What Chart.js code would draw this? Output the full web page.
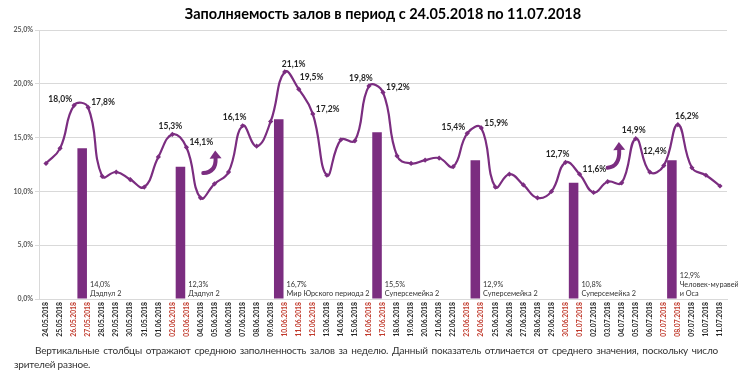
<!DOCTYPE html>
<html>
<head>
<meta charset="utf-8">
<script src="https://cdn.jsdelivr.net/npm/chart.js@4/dist/chart.umd.min.js"></script>
<style>
body { margin: 0; background: #fff; }
#wrap { position: relative; width: 738px; height: 375px; overflow: hidden; }
#zaly { position: absolute; left: 0; top: 0; }
#note { position: absolute; left: 14px; top: 344px; width: 704px; font-family: Lato, sans-serif; font-size: 10px; letter-spacing: -0.2px; line-height: 13.5px; color: #333; text-align: justify; text-indent: 21px; }
</style>
</head>
<body>
<div id="wrap">
<canvas id="zaly" width="738" height="375"></canvas>
<div id="note">Вертикальные столбцы отражают среднюю заполненность залов за неделю. Данный показатель отличается от среднего значения, поскольку число зрителей разное.</div>
</div>
<script>
var dates = [
    '24.05.2018', '25.05.2018', '26.05.2018', '27.05.2018', '28.05.2018', '29.05.2018', '30.05.2018', '31.05.2018',
    '01.06.2018', '02.06.2018', '03.06.2018', '04.06.2018', '05.06.2018', '06.06.2018', '07.06.2018', '08.06.2018',
    '09.06.2018', '10.06.2018', '11.06.2018', '12.06.2018', '13.06.2018', '14.06.2018', '15.06.2018', '16.06.2018',
    '17.06.2018', '18.06.2018', '19.06.2018', '20.06.2018', '21.06.2018', '22.06.2018', '23.06.2018', '24.06.2018',
    '25.06.2018', '26.06.2018', '27.06.2018', '28.06.2018', '29.06.2018', '30.06.2018', '01.07.2018', '02.07.2018',
    '03.07.2018', '04.07.2018', '05.07.2018', '06.07.2018', '07.07.2018', '08.07.2018', '09.07.2018', '10.07.2018',
    '11.07.2018'
];

// выходные и праздники (красные подписи)
var redDates = [
    '26.05.2018', '27.05.2018', '02.06.2018', '03.06.2018', '10.06.2018', '11.06.2018', '12.06.2018',
    '16.06.2018', '17.06.2018', '23.06.2018', '24.06.2018', '30.06.2018', '01.07.2018', '07.07.2018', '08.07.2018'
];

// заполняемость по дням, %
var fillRate = [
    12.6, 14.0, 18.0, 17.8, 11.4, 11.8, 11.1, 10.4,
    13.2, 15.3, 14.1, 9.4, 10.7, 11.8, 16.1, 14.2,
    16.5, 21.1, 19.5, 17.2, 11.5, 14.8, 14.7, 19.8,
    19.2, 13.3, 12.6, 12.9, 13.1, 12.3, 15.4, 15.9,
    10.4, 11.6, 10.6, 9.4, 10.0, 12.7, 11.6, 9.9,
    10.9, 10.8, 14.9, 11.8, 12.4, 16.2, 12.2, 11.5,
    10.5
];

// средняя заполняемость за неделю
var weekDates = ['27.05.2018', '03.06.2018', '10.06.2018', '17.06.2018', '24.06.2018', '01.07.2018', '08.07.2018'];
var weekAvg = [14.0, 12.3, 16.7, 15.5, 12.9, 10.8, 12.9];
var weekFilms = [
    ['Дэдпул 2'],
    ['Дэдпул 2'],
    ['Мир Юрского периода 2'],
    ['Суперсемейка 2'],
    ['Суперсемейка 2'],
    ['Суперсемейка 2'],
    ['Человек-муравей', 'и Оса']
];

// подписанные точки линии
var labelDates = [
    '26.05.2018', '27.05.2018', '02.06.2018', '03.06.2018', '07.06.2018', '10.06.2018', '11.06.2018', '12.06.2018',
    '16.06.2018', '17.06.2018', '23.06.2018', '24.06.2018', '30.06.2018', '01.07.2018', '05.07.2018', '07.07.2018',
    '08.07.2018'
];
var labelPlaces = [
    'left', 'right', 'top', 'right', 'topleft', 'topright', 'upright', 'right',
    'topleft', 'right', 'left', 'right', 'topleft', 'right', 'top', 'highleft',
    'topright'
];

var purple = '#7b2d80';

var weekBars = dates.map(function (d) {
    var k = weekDates.indexOf(d);
    return k >= 0 ? weekAvg[k] : null;
});
var emptyBars = dates.map(function () { return null; });

function pct(v) {
    return v.toFixed(1).replace('.', ',') + '%';
}

var places = {
    left: { align: 'right', dx: -2, dy: -6 },
    right: { align: 'left', dx: 3, dy: -5 },
    top: { align: 'center', dx: -2, dy: -8 },
    topleft: { align: 'center', dx: -8, dy: -8 },
    topright: { align: 'center', dx: 9, dy: -8 },
    upright: { align: 'left', dx: 1, dy: -12 },
    highleft: { align: 'center', dx: -9, dy: -14 }
};

var extras = {
    id: 'extras',
    afterDatasetsDraw: function (chart) {
        var ctx = chart.ctx;
        var area = chart.chartArea;
        var xs = chart.scales.x, ys = chart.scales.y;
        ctx.save();

        // заголовок
        ctx.fillStyle = '#000';
        ctx.font = 'bold 14.5px Lato';
        ctx.textAlign = 'center';
        ctx.textBaseline = 'middle';
        ctx.fillText('Заполняемость залов в период с 24.05.2018 по 11.07.2018', (area.left + area.right) / 2, 14);

        // подписи точек
        var line = chart.getDatasetMeta(0).data;
        ctx.font = 'bold 8.5px Lato';
        ctx.fillStyle = '#262626';
        for (var i = 0; i < labelDates.length; i++) {
            var idx = dates.indexOf(labelDates[i]);
            var p = line[idx];
            var pl = places[labelPlaces[i]];
            ctx.textAlign = pl.align;
            ctx.fillText(pct(fillRate[idx]), p.x + pl.dx, p.y + pl.dy);
        }

        // подписи столбцов
        var bars = chart.getDatasetMeta(1).data;
        ctx.font = '7.3px Lato';
        ctx.fillStyle = '#333';
        ctx.textAlign = 'left';
        ctx.textBaseline = 'alphabetic';
        for (var j = 0; j < dates.length; j++) {
            var k = weekDates.indexOf(dates[j]);
            if (k < 0) continue;
            var b = bars[j];
            var tx = b.x + b.width / 2 + 3;
            var rows = [pct(weekAvg[k])].concat(weekFilms[k]);
            for (var r = 0; r < rows.length; r++) {
                ctx.fillText(rows[r], tx, area.bottom - 3 - (rows.length - 1 - r) * 9);
            }
        }

        // стрелки
        drawArrow(ctx, xs.getPixelForValue(11.2), ys.getPixelForValue(11.7), xs.getPixelForValue(12.05), ys.getPixelForValue(13.8));
        drawArrow(ctx, xs.getPixelForValue(40.0), ys.getPixelForValue(12.2), xs.getPixelForValue(40.8), ys.getPixelForValue(14.6));
        ctx.restore();
    }
};

function drawArrow(ctx, x0, y0, x1, y1) {
    var cx = x1 + 1, cy = y0 - 1;
    var ang = Math.atan2(y1 - cy, x1 - cx);
    var hx = x1 - Math.cos(ang) * 8, hy = y1 - Math.sin(ang) * 8;
    ctx.strokeStyle = purple;
    ctx.fillStyle = purple;
    ctx.lineCap = 'round';
    ctx.lineWidth = 4;
    ctx.beginPath();
    ctx.moveTo(x0, y0);
    ctx.quadraticCurveTo(cx, cy, hx, hy);
    ctx.stroke();
    ctx.beginPath();
    ctx.moveTo(x1, y1);
    ctx.lineTo(hx + Math.cos(ang + Math.PI / 2) * 6, hy + Math.sin(ang + Math.PI / 2) * 6);
    ctx.lineTo(hx + Math.cos(ang - Math.PI / 2) * 6, hy + Math.sin(ang - Math.PI / 2) * 6);
    ctx.closePath();
    ctx.fill();
}

var grafik = new Chart(document.getElementById('zaly'), {
    data: {
        labels: dates,
        datasets: [
            {
                type: 'line',
                data: fillRate,
                borderColor: purple,
                borderWidth: 2.2,
                tension: 0.45,
                pointStyle: 'rectRot',
                pointRadius: 2.6,
                pointBackgroundColor: purple,
                pointBorderWidth: 0,
                order: 0
            },
            {
                type: 'bar',
                data: weekBars,
                backgroundColor: purple,
                categoryPercentage: 1.7,
                barPercentage: 0.8,
                order: 1
            },
            {
                type: 'bar',
                data: emptyBars,
                categoryPercentage: 1.7,
                barPercentage: 0.8,
                order: 2
            }
        ]
    },
    options: {
        responsive: false,
        animation: false,
        layout: { padding: { top: 30, right: 11, left: 0, bottom: 31 } },
        plugins: {
            legend: { display: false },
            tooltip: { enabled: false }
        },
        scales: {
            x: {
                offset: true,
                grid: { display: false, drawTicks: false },
                border: { color: '#d9d9d9' },
                ticks: {
                    autoSkip: false,
                    minRotation: 90,
                    maxRotation: 90,
                    padding: 3,
                    font: { family: 'Lato', size: 6.8, weight: 'bold' },
                    color: function (c) {
                        return redDates.indexOf(dates[c.index]) >= 0 ? '#c0392b' : '#262626';
                    }
                },
                afterFit: function (s) { s.height = 45; }
            },
            y: {
                min: 0,
                max: 25,
                ticks: {
                    stepSize: 5,
                    padding: 2,
                    font: { family: 'Lato', size: 7, weight: 'bold' },
                    color: '#595959',
                    callback: function (v) { return pct(v); }
                },
                grid: { color: '#d9d9d9', tickLength: 4 },
                border: { color: '#d9d9d9' },
                afterFit: function (s) { s.width = 39; }
            }
        }
    },
    plugins: [extras]
});
</script>
</body>
</html>
